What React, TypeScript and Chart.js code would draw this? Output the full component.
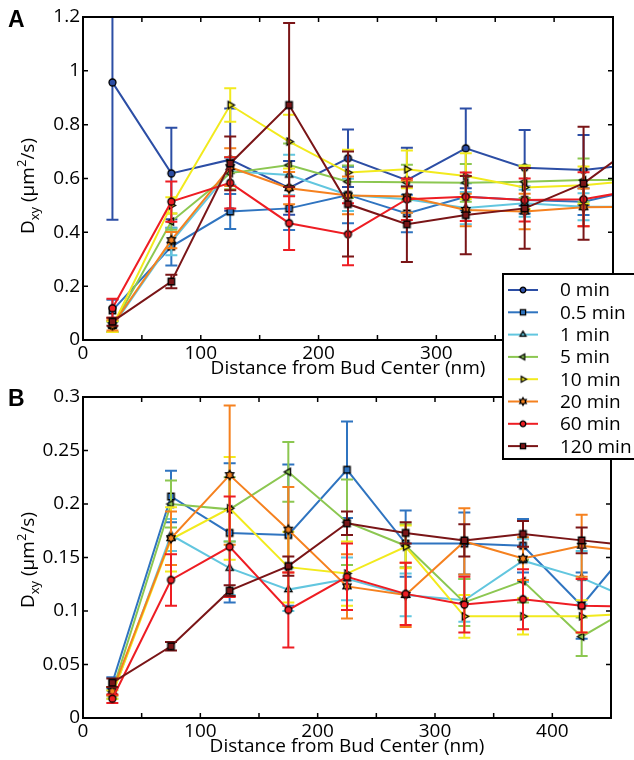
import React, { useEffect, useRef } from "react";
import { Chart, registerables } from "chart.js";

Chart.register(...registerables);

// ---------------- data ----------------
const distances = [25, 75, 125, 175, 225, 275, 325, 375, 425, 475];
const seriesNames = ["0 min", "0.5 min", "1 min", "5 min", "10 min", "20 min", "60 min", "120 min"];
const seriesColors = ["#2c4ea5", "#2f74c0", "#62c6df", "#8cc751", "#f2ea1d", "#f5811f", "#ee1d23", "#7a1517"];
const seriesMarkers = ["circle", "square", "triUp", "triLeft", "triRight", "hexagram", "circle", "square"];

// Panel A  (D_xy, um^2/s)
const a0min = [0.957, 0.619, 0.670, 0.565, 0.675, 0.594, 0.712, 0.640, 0.632, 0.656];
const a05min = [0.11, 0.347, 0.477, 0.489, 0.539, 0.470, 0.532, 0.520, 0.514, 0.564];
const a1min = [0.05, 0.365, 0.627, 0.613, 0.539, 0.523, 0.490, 0.508, 0.495, 0.495];
const a5min = [0.05, 0.44, 0.62, 0.65, 0.588, 0.586, 0.584, 0.588, 0.594, 0.594];
const a10min = [0.05, 0.50, 0.873, 0.737, 0.622, 0.634, 0.609, 0.567, 0.575, 0.595];
const a20min = [0.055, 0.371, 0.642, 0.564, 0.537, 0.533, 0.483, 0.477, 0.493, 0.495];
const a60min = [0.118, 0.514, 0.584, 0.434, 0.393, 0.523, 0.532, 0.520, 0.523, 0.561];
const a120min = [0.068, 0.217, 0.656, 0.873, 0.505, 0.430, 0.464, 0.489, 0.582, 0.742];

const aErr0min = [0.51, 0.17, 0.19, 0.10, 0.107, 0.12, 0.148, 0.14, 0.13, 0.13];
const aErr05min = [0.04, 0.07, 0.065, 0.08, 0.105, 0.07, 0.05, 0.05, 0.05, 0.05];
const aErr1min = [0.02, 0.05, 0.05, 0.075, 0.06, 0.05, 0.06, 0.05, 0.05, 0.05];
const aErr5min = [0.02, 0.03, 0.06, 0.08, 0.06, 0.065, 0.07, 0.06, 0.08, 0.08];
const aErr10min = [0.02, 0.03, 0.062, 0.10, 0.085, 0.07, 0.085, 0.08, 0.07, 0.07];
const aErr20min = [0.02, 0.03, 0.07, 0.06, 0.07, 0.06, 0.06, 0.066, 0.07, 0.07];
const aErr60min = [0.035, 0.075, 0.095, 0.10, 0.115, 0.077, 0.09, 0.08, 0.10, 0.10];
const aErr120min = [0.015, 0.025, 0.10, 0.305, 0.195, 0.14, 0.145, 0.15, 0.21, 0.21];

// Panel B
const b05min = [0.033, 0.207, 0.173, 0.171, 0.232, 0.163, 0.163, 0.161, 0.105, 0.171];
const b1min = [0.022, 0.171, 0.140, 0.120, 0.130, 0.115, 0.110, 0.147, 0.131, 0.107];
const b5min = [0.025, 0.200, 0.195, 0.230, 0.183, 0.161, 0.108, 0.128, 0.076, 0.108];
const b10min = [0.022, 0.167, 0.196, 0.141, 0.135, 0.160, 0.095, 0.095, 0.095, 0.098];
const b20min = [0.025, 0.168, 0.227, 0.176, 0.123, 0.115, 0.165, 0.149, 0.161, 0.155];
const b60min = [0.018, 0.129, 0.160, 0.101, 0.132, 0.116, 0.106, 0.111, 0.105, 0.104];
const b120min = [0.033, 0.067, 0.119, 0.142, 0.182, 0.173, 0.166, 0.172, 0.166, 0.160];

const bErr05min = [0.005, 0.024, 0.065, 0.066, 0.045, 0.031, 0.029, 0.025, 0.031, 0.031];
const bErr1min = [0.004, 0.015, 0.025, 0.02, 0.02, 0.02, 0.02, 0.02, 0.025, 0.025];
const bErr5min = [0.004, 0.022, 0.03, 0.028, 0.04, 0.02, 0.022, 0.02, 0.018, 0.018];
const bErr10min = [0.004, 0.03, 0.048, 0.033, 0.03, 0.02, 0.02, 0.017, 0.015, 0.015];
const bErr20min = [0.004, 0.025, 0.065, 0.04, 0.03, 0.03, 0.031, 0.02, 0.029, 0.029];
const bErr60min = [0.004, 0.024, 0.047, 0.035, 0.031, 0.029, 0.026, 0.028, 0.025, 0.025];
const bErr120min = [0.004, 0.004, 0.005, 0.009, 0.011, 0.01, 0.015, 0.012, 0.012, 0.012];

const xAxisTitle = "Distance from Bud Center (nm)";

// ---------------- helpers ----------------
const FONT = "'Open Sans', sans-serif";
const markerSizes: Record<string, number> = {
  circle: 7, square: 6.5, triUp: 8.5, triLeft: 8.5, triRight: 8.5, hexagram: 9.5,
};

function markerPath(ctx: CanvasRenderingContext2D, shape: string, size: number) {
  const r = size / 2;
  ctx.beginPath();
  if (shape === "circle") {
    ctx.arc(0, 0, r, 0, Math.PI * 2);
  } else if (shape === "square") {
    ctx.rect(-r, -r, 2 * r, 2 * r);
  } else if (shape === "hexagram") {
    for (let k = 0; k < 12; k++) {
      const ang = -Math.PI / 2 + (k * Math.PI) / 6;
      const rr = k % 2 === 0 ? r : r / Math.sqrt(3);
      const px = rr * Math.cos(ang);
      const py = rr * Math.sin(ang);
      if (k === 0) ctx.moveTo(px, py);
      else ctx.lineTo(px, py);
    }
    ctx.closePath();
  } else {
    const base = shape === "triUp" ? -Math.PI / 2 : shape === "triLeft" ? Math.PI : 0;
    for (let k = 0; k < 3; k++) {
      const ang = base + (k * 2 * Math.PI) / 3;
      const px = r * Math.cos(ang);
      const py = r * Math.sin(ang);
      if (k === 0) ctx.moveTo(px, py);
      else ctx.lineTo(px, py);
    }
    ctx.closePath();
  }
}

function makeMarker(shape: string, color: string, size: number) {
  const s = Math.ceil(size + 4);
  const c = document.createElement("canvas");
  c.width = s;
  c.height = s;
  const ctx = c.getContext("2d")!;
  ctx.translate(s / 2, s / 2);
  markerPath(ctx, shape, size);
  ctx.fillStyle = color;
  ctx.fill();
  ctx.lineWidth = 1.3;
  ctx.strokeStyle = "#000";
  ctx.stroke();
  return c;
}

function buildDataset(idx: number, values: number[], errors: number[], marker: HTMLCanvasElement) {
  return {
    label: seriesNames[idx],
    data: distances.map((x, i) => ({ x, y: values[i] })),
    errors,
    borderColor: seriesColors[idx],
    backgroundColor: seriesColors[idx],
    borderWidth: 2,
    pointStyle: marker,
    pointRadius: 3,
    tension: 0,
    order: -idx,
  };
}

const errorBarPlugin = {
  id: "errorBars",
  beforeDatasetDraw(chart: any, args: any) {
    const ds = chart.data.datasets[args.index];
    const errs: number[] = ds.errors;
    if (!errs) return;
    const { ctx, chartArea: a, scales } = chart;
    ctx.save();
    ctx.beginPath();
    ctx.rect(a.left, a.top, a.right - a.left, a.bottom - a.top);
    ctx.clip();
    ctx.strokeStyle = ds.borderColor;
    ctx.lineWidth = 2;
    const cap = 6;
    ctx.beginPath();
    ds.data.forEach((p: any, i: number) => {
      const x = scales.x.getPixelForValue(p.x);
      const yt = scales.y.getPixelForValue(p.y + errs[i]);
      const yb = scales.y.getPixelForValue(p.y - errs[i]);
      ctx.moveTo(x, yt);
      ctx.lineTo(x, yb);
      ctx.moveTo(x - cap, yt);
      ctx.lineTo(x + cap, yt);
      ctx.moveTo(x - cap, yb);
      ctx.lineTo(x + cap, yb);
    });
    ctx.stroke();
    ctx.restore();
  },
};

const framePlugin = {
  id: "frame",
  afterDatasetsDraw(chart: any) {
    const { ctx, chartArea: a, scales } = chart;
    ctx.save();
    ctx.strokeStyle = "#000";
    ctx.lineWidth = 2;
    ctx.strokeRect(a.left, a.top, a.right - a.left, a.bottom - a.top);
    ctx.lineWidth = 1.5;
    const tl = 5;
    ctx.beginPath();
    scales.x.ticks.forEach((t: any) => {
      const px = scales.x.getPixelForValue(t.value);
      ctx.moveTo(px, a.bottom);
      ctx.lineTo(px, a.bottom - tl);
      ctx.moveTo(px, a.top);
      ctx.lineTo(px, a.top + tl);
    });
    scales.y.ticks.forEach((t: any) => {
      const py = scales.y.getPixelForValue(t.value);
      ctx.moveTo(a.left, py);
      ctx.lineTo(a.left + tl, py);
      ctx.moveTo(a.right, py);
      ctx.lineTo(a.right - tl, py);
    });
    ctx.stroke();
    ctx.restore();
  },
};

function drawYTitle(ctx: CanvasRenderingContext2D, x: number, cy: number) {
  const big = `19px ${FONT}`;
  const small = `13px ${FONT}`;
  const parts = [
    { t: "D", f: big, dy: 0 },
    { t: "xy", f: small, dy: 5 },
    { t: " (\u00b5m", f: big, dy: 0 },
    { t: "2", f: small, dy: -8 },
    { t: "/s)", f: big, dy: 0 },
  ];
  let total = 0;
  const widths = parts.map((p) => {
    ctx.font = p.f;
    const w = ctx.measureText(p.t).width;
    total += w;
    return w;
  });
  ctx.save();
  ctx.translate(x, cy);
  ctx.rotate(-Math.PI / 2);
  ctx.fillStyle = "#000";
  ctx.textBaseline = "alphabetic";
  ctx.textAlign = "left";
  let cur = -total / 2;
  parts.forEach((p, i) => {
    ctx.font = p.f;
    ctx.fillText(p.t, cur, p.dy);
    cur += widths[i];
  });
  ctx.restore();
}

function decoPlugin(letter: string, letterY: number, titleCY: number, legendMarkers: HTMLCanvasElement[] | null) {
  return {
    id: "deco" + letter,
    afterDraw(chart: any) {
      const ctx: CanvasRenderingContext2D = chart.ctx;
      ctx.save();
      ctx.fillStyle = "#000";
      ctx.font = `bold 23px 'Liberation Sans', Arial, sans-serif`;
      ctx.textBaseline = "alphabetic";
      ctx.textAlign = "left";
      ctx.fillText(letter, 8, letterY);
      ctx.restore();
      drawYTitle(ctx, 34, titleCY);
      if (legendMarkers) {
        ctx.save();
        ctx.fillStyle = "#fff";
        ctx.fillRect(503, 274, 140, 185);
        ctx.strokeStyle = "#000";
        ctx.lineWidth = 2;
        ctx.strokeRect(503, 274, 140, 185);
        const rowY0 = 290;
        const step = 22.3;
        seriesNames.forEach((name, i) => {
          const y = rowY0 + i * step;
          ctx.strokeStyle = seriesColors[i];
          ctx.lineWidth = 2;
          ctx.beginPath();
          ctx.moveTo(508, y);
          ctx.lineTo(538, y);
          ctx.stroke();
          const m = legendMarkers[i];
          ctx.drawImage(m, 523 - m.width / 2, y - m.height / 2);
          ctx.fillStyle = "#000";
          ctx.font = `19px ${FONT}`;
          ctx.textBaseline = "middle";
          ctx.textAlign = "left";
          ctx.fillText(name, 560, y + 1);
        });
        ctx.restore();
      }
    },
  };
}

function fmt(v: number) {
  return String(Math.round(v * 1000) / 1000);
}

function buildConfig(datasets: any[], yMax: number, yStep: number, padding: any, plugins: any[]) {
  const font = { family: FONT, size: 19 };
  return {
    type: "line",
    data: { datasets },
    options: {
      responsive: false,
      animation: false,
      devicePixelRatio: 1,
      events: [],
      layout: { padding, autoPadding: false },
      plugins: { legend: { display: false }, tooltip: { enabled: false } },
      scales: {
        x: {
          type: "linear",
          min: 0,
          max: 450,
          ticks: {
            stepSize: 50,
            autoSkip: false,
            maxRotation: 0,
            padding: 2,
            font,
            color: "#000",
            callback: (v: number) => (v % 100 === 0 ? String(v) : ""),
          },
          grid: { display: false, drawTicks: false },
          border: { display: false },
          title: { display: true, text: xAxisTitle, font, color: "#000", padding: { top: 0, bottom: 0 } },
          afterFit: (s: any) => {
            s.height = 40;
          },
        },
        y: {
          type: "linear",
          min: 0,
          max: yMax,
          ticks: { stepSize: yStep, padding: 3, font, color: "#000", callback: (v: number) => fmt(v) },
          grid: { display: false, drawTicks: false },
          border: { display: false },
          afterFit: (s: any) => {
            s.width = 83;
          },
        },
      },
    },
    plugins: [errorBarPlugin, framePlugin, ...plugins],
  };
}

export default function App() {
  const refA = useRef<HTMLCanvasElement>(null);
  const refB = useRef<HTMLCanvasElement>(null);

  useEffect(() => {
    const markers = seriesMarkers.map((m, i) => makeMarker(m, seriesColors[i], markerSizes[m]));
    const legendMarkers = seriesMarkers.map((m, i) => makeMarker(m, seriesColors[i], markerSizes[m] * 0.8));

    const aValues = [a0min, a05min, a1min, a5min, a10min, a20min, a60min, a120min];
    const aErrors = [aErr0min, aErr05min, aErr1min, aErr5min, aErr10min, aErr20min, aErr60min, aErr120min];
    const dsA = aValues.map((v, i) => buildDataset(i, v, aErrors[i], markers[i]));

    const bValues = [b05min, b1min, b5min, b10min, b20min, b60min, b120min];
    const bErrors = [bErr05min, bErr1min, bErr5min, bErr10min, bErr20min, bErr60min, bErr120min];
    const dsB = bValues.map((v, i) => buildDataset(i + 1, v, bErrors[i], markers[i + 1]));

    const chartA = new Chart(
      refA.current as HTMLCanvasElement,
      buildConfig(dsA, 1.2, 0.2, { top: 17, left: 0, right: 21, bottom: 90 }, [
        decoPlugin("A", 27, 186, legendMarkers),
      ]) as any
    );
    const chartB = new Chart(
      refB.current as HTMLCanvasElement,
      buildConfig(dsB, 0.3, 0.05, { top: 17, left: 0, right: 23, bottom: 2 }, [
        decoPlugin("B", 26, 180, null),
      ]) as any
    );
    return () => {
      chartA.destroy();
      chartB.destroy();
    };
  }, []);

  return (
    <div style={{ position: "absolute", left: 0, top: 0, width: 634, height: 760, background: "#fff", overflow: "hidden" }}>
      <canvas ref={refB} width={634} height={380} style={{ position: "absolute", left: 0, top: 380, zIndex: 1 }} />
      <canvas ref={refA} width={634} height={470} style={{ position: "absolute", left: 0, top: 0, zIndex: 2 }} />
    </div>
  );
}
